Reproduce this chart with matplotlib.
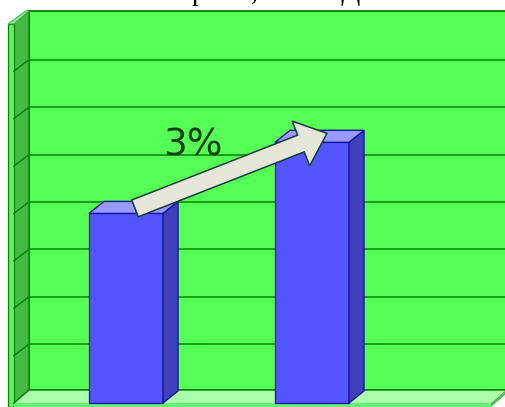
import numpy as np
from matplotlib import pyplot as plt
from matplotlib.patches import Polygon, FancyArrow
from matplotlib.transforms import Affine2D

values = [4.0, 5.5]
positions = [0, 1]
grid_levels = [1, 2, 3, 4, 5, 6, 7]
n_levels = 8
change_label = "3%"
# only the descenders of this line show in the source, the wording is a guess
title_text = "Прием, всего  Доля"

# scale of the picture, one bar step / one grid step in pixels
W, H = 506, 407
STEP_X, STEP_Y = 186.0, 47.4
DX, DY = 15 / STEP_X, 13 / STEP_Y
BAR_DY = 12 / STEP_Y
GRID_DY = 11.5 / STEP_Y
BAR_W = 74 / STEP_X
X0 = -112 / STEP_X
X1 = 365 / STEP_X
BOTTOM = -4 / STEP_Y

fig = plt.figure(figsize=(W / 100, H / 100), dpi=100)
ax = fig.add_axes([0, 0, 1, 1])
ax.set_xlim(-126 / STEP_X, (W - 126) / STEP_X)
ax.set_ylim(BOTTOM, 403 / STEP_Y)
ax.axis("off")

wall = "#55ff55"
line = "#058505"
navy = "#14149a"


def poly(pts, fc, ec=line, lw=1.1, z=1):
    ax.add_patch(Polygon(pts, closed=True, fc=fc, ec=ec, lw=lw, zorder=z))


# back wall, side wall, floor
poly([(X0 + DX, DY), (X1 + DX, DY), (X1 + DX, n_levels + DY), (X0 + DX, n_levels + DY)], wall, lw=1.4)
poly([(X0, 0), (X0 + DX, DY), (X0 + DX, n_levels + DY), (X0, n_levels)], "#45bb45")
poly([(X0, 0), (X1, 0), (X1 + DX, DY), (X0 + DX, DY)], "#aaffaa", ec="none", lw=0)
ax.plot([X0, X0 + DX, X1 + DX], [0, DY, DY], color=line, lw=1.1, zorder=2)

# front edge strips
poly([(X0 - 6 / STEP_X, BOTTOM), (X0, BOTTOM), (X0, n_levels), (X0 - 6 / STEP_X, n_levels)], "#66ee66", lw=0.9)
poly([(X0 - 6 / STEP_X, n_levels), (X0, n_levels), (X0 + DX, n_levels + DY), (X0 + DX - 3 / STEP_X, n_levels + DY)],
     "#88ee88", ec="#55bb55", lw=0.8)
poly([(X0, BOTTOM), (X1, BOTTOM), (X1, 0), (X0, 0)], "#66ee77", ec="none", lw=0)
poly([(X1, BOTTOM), (X1, 0), (X1 + DX, DY), (X1 + DX, DY + BOTTOM)], "#55bb55", ec="none", lw=0)

for lev in grid_levels:
    ax.plot([X0 + DX, X1 + DX], [lev + GRID_DY, lev + GRID_DY], color=line, lw=1.1, zorder=2)
    ax.plot([X0, X0 + DX], [lev, lev + GRID_DY], color=line, lw=1.1, zorder=2)

# bars, front face through bar(), depth faces from the same values
ax.bar(positions, values, width=BAR_W, color="#5555ff", edgecolor=navy, linewidth=0.9, zorder=3)
for p, v in zip(positions, values):
    l, r = p - BAR_W / 2, p + BAR_W / 2
    poly([(r, 0), (r + DX, BAR_DY), (r + DX, v + BAR_DY), (r, v)], "#4040bb", ec=navy, lw=1, z=3)
    poly([(l, v), (r, v), (r + DX, v + BAR_DY), (l + DX, v + BAR_DY)], "#9999ff", ec=navy, lw=1, z=3)

# arrow runs between the two bar tops, sized in pixels
px = Affine2D().scale(1 / STEP_X, 1 / STEP_Y) + ax.transData
start = (positions[0] * STEP_X + 9, values[0] * STEP_Y + 5)
end = (positions[1] * STEP_X + 15, values[1] * STEP_Y + 9)
ax.add_patch(FancyArrow(start[0], start[1], end[0] - start[0], end[1] - start[1],
                        width=18, head_width=48, head_length=28, length_includes_head=True,
                        fc="#e6e6d8", ec="#123c3c", lw=1.1, transform=px, zorder=4))

ax.text(0.3575, 5.23, change_label, fontsize=27, color="#0a3f0a", ha="center", va="baseline", zorder=5)
ax.text(46 / STEP_X, 403 / STEP_Y, title_text, fontsize=20, family="Liberation Serif", color="black",
        ha="left", va="baseline", zorder=5)

plt.savefig("out.png", dpi=100)
